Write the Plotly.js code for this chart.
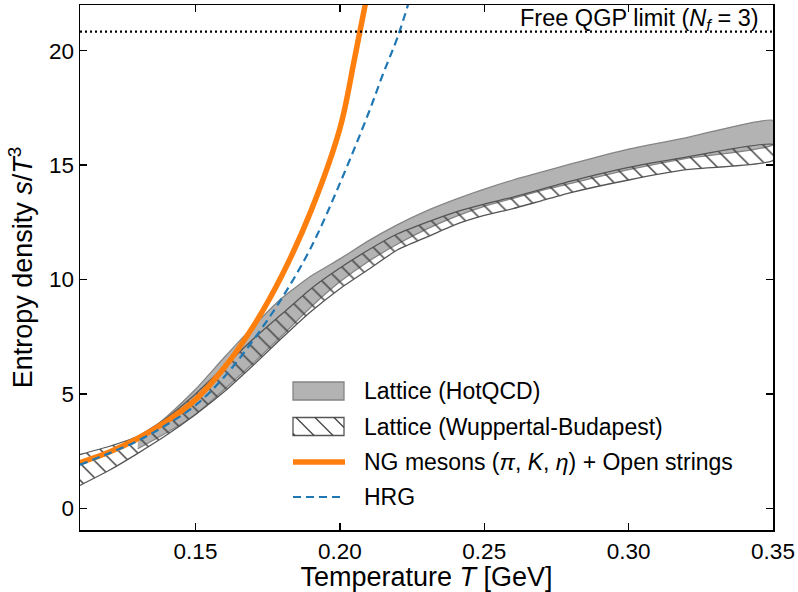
<!DOCTYPE html>
<html>
<head>
<meta charset="utf-8">
<script src="https://cdn.plot.ly/plotly-3.0.1.min.js"></script>
<style>html,body{margin:0;padding:0;background:#fff;}#chart{width:798px;height:592px;}</style>
</head>
<body>
<div id="chart"></div>
<script>
// HotQCD band (s/T^3)
const hotT  = [0.13, 0.14, 0.15, 0.16, 0.17, 0.18, 0.19, 0.20, 0.21, 0.22, 0.23, 0.24, 0.25, 0.26, 0.27, 0.28, 0.30, 0.32, 0.35];
const hotHi = [2.95, 4.0, 5.2, 6.6, 7.95, 9.2, 10.15, 10.9, 11.7, 12.4, 13.0, 13.5, 13.95, 14.35, 14.7, 15.05, 15.7, 16.2, 16.95];
const hotLo = [2.6, 3.3, 4.1, 5.2, 6.35, 7.55, 8.8, 9.9, 10.8, 11.55, 12.2, 12.75, 13.2, 13.55, 13.9, 14.2, 14.8, 15.3, 15.9];
// Wuppertal-Budapest band
const wbT  = [0.11, 0.12, 0.13, 0.14, 0.15, 0.16, 0.17, 0.18, 0.19, 0.20, 0.21, 0.22, 0.23, 0.24, 0.25, 0.26, 0.27, 0.28, 0.30, 0.32, 0.35];
const wbHi = [2.35, 2.7, 3.15, 3.95, 5.0, 6.2, 7.4, 8.5, 9.6, 10.5, 11.3, 12.0, 12.5, 12.95, 13.3, 13.6, 13.95, 14.3, 14.9, 15.35, 15.9];
const wbLo = [1.0, 1.65, 2.4, 3.2, 4.1, 5.1, 6.25, 7.45, 8.6, 9.6, 10.45, 11.3, 11.85, 12.4, 12.8, 13.1, 13.45, 13.8, 14.35, 14.8, 15.2];
// NG mesons + open strings
const ngT = [0.11, 0.12, 0.13, 0.14, 0.15, 0.16, 0.17, 0.18, 0.19, 0.20, 0.205, 0.21];
const ngS = [2.0, 2.45, 3.05, 3.8, 4.75, 6.15, 7.95, 10.2, 13.0, 16.6, 19.6, 22.8];
// HRG
const hrgT = [0.11, 0.12, 0.13, 0.14, 0.15, 0.16, 0.17, 0.18, 0.19, 0.20, 0.21, 0.215, 0.22, 0.225];
const hrgS = [1.9, 2.4, 2.95, 3.65, 4.5, 5.75, 7.35, 9.2, 11.4, 14.2, 17.3, 19.0, 20.6, 22.6];
// Free QGP limit
const qgpT = [0.11, 0.35];
const qgpS = [20.84, 20.84];
const xTicks = [0.15, 0.20, 0.25, 0.30, 0.35];
const xTickText = ['0.15', '0.20', '0.25', '0.30', '0.35'];
const yTicks = [0, 5, 10, 15, 20];
const legendNames = ['Lattice (HotQCD)', 'Lattice (Wuppertal-Budapest)',
  'NG mesons (<i>π</i>, <i>K</i>, <i>η</i>) + Open strings', 'HRG'];

const rev = a => a.slice().reverse();
const FONT = 'Liberation Sans, Arial, sans-serif';

const W = 798, H = 592;
const M = {l: 80, r: 25, t: 5, b: 62};
const PW = W - M.l - M.r, PH = H - M.t - M.b;
const px2x = p => (p - M.l) / PW;
const px2y = p => (H - M.b - p) / PH;

const traces = [
  {
    x: hotT.concat(rev(hotT)), y: hotHi.concat(rev(hotLo)),
    type: 'scatter', mode: 'lines', fill: 'toself',
    fillcolor: '#b3b3b3', line: {color: '#858585', width: 1.3, shape: 'spline', smoothing: 0.5},
    name: legendNames[0], showlegend: false, hoverinfo: 'skip'
  },
  {
    x: wbT.concat(rev(wbT)), y: wbHi.concat(rev(wbLo)),
    type: 'scatter', mode: 'lines', fill: 'toself',
    fillcolor: 'rgba(0,0,0,0)',
    fillpattern: {shape: '\\', fgcolor: '#404040', bgcolor: 'rgba(0,0,0,0)', size: 12, solidity: 0.12},
    line: {color: '#555555', width: 1.3, shape: 'spline', smoothing: 0.5},
    name: legendNames[1], showlegend: false, hoverinfo: 'skip'
  },
  {
    x: ngT, y: ngS, type: 'scatter', mode: 'lines', line: {shape: 'spline', color: '#ff7f0e', width: 5.5},
    name: legendNames[2], showlegend: false
  },
  {
    x: hrgT, y: hrgS, type: 'scatter', mode: 'lines', line: {shape: 'spline', color: '#1f77b4', width: 2.2, dash: '8px,5px'},
    name: legendNames[3], showlegend: false
  },
  {
    x: qgpT, y: qgpS, type: 'scatter', mode: 'lines', line: {color: '#000', width: 2.2, dash: '2px,3px'},
    showlegend: false
  }
];

// ---- legend drawn as paper shapes + annotations ----
const rowY = [391, 426.5, 462, 497];
const symX0 = 293, symX1 = 344, txtX = 362, boxH = 18;
const shapes = [];
const annotations = [];
// HotQCD box
shapes.push({type: 'rect', xref: 'paper', yref: 'paper',
  x0: px2x(symX0), x1: px2x(symX1), y0: px2y(rowY[0] + boxH / 2), y1: px2y(rowY[0] - boxH / 2),
  fillcolor: '#b3b3b3', line: {color: '#858585', width: 1.3}});
// WB hatched box
const bt = rowY[1] - boxH / 2, bb = rowY[1] + boxH / 2;
shapes.push({type: 'rect', xref: 'paper', yref: 'paper',
  x0: px2x(symX0), x1: px2x(symX1), y0: px2y(bb), y1: px2y(bt),
  fillcolor: 'rgba(0,0,0,0)', line: {color: '#555555', width: 1.3}});
for (let s = symX0 - boxH + 2; s < symX1; s += 19) {
  let xa = s, ya = bt, xb = s + boxH, yb = bb;
  if (xa < symX0) { ya = bt + (symX0 - xa); xa = symX0; }
  if (xb > symX1) { yb = bb - (xb - symX1); xb = symX1; }
  if (xb - xa < 1) continue;
  shapes.push({type: 'line', xref: 'paper', yref: 'paper',
    x0: px2x(xa), y0: px2y(ya), x1: px2x(xb), y1: px2y(yb),
    line: {color: '#404040', width: 1.3}});
}
// NG line
shapes.push({type: 'line', xref: 'paper', yref: 'paper',
  x0: px2x(symX0), x1: px2x(symX1 + 1), y0: px2y(rowY[2]), y1: px2y(rowY[2]),
  line: {color: '#ff7f0e', width: 5.5}});
// HRG line
shapes.push({type: 'line', xref: 'paper', yref: 'paper',
  x0: px2x(symX0), x1: px2x(symX1 + 1), y0: px2y(rowY[3]), y1: px2y(rowY[3]),
  line: {color: '#1f77b4', width: 2.2, dash: '8px,5px'}});
legendNames.forEach((n, i) => {
  annotations.push({xref: 'paper', yref: 'paper', x: px2x(txtX), y: px2y(rowY[i]),
    xanchor: 'left', yanchor: 'middle', text: n, showarrow: false,
    font: {family: FONT, size: 23, color: '#000'}});
});
annotations.push({
  x: 0.3457, y: qgpS[0], xref: 'x', yref: 'y', xanchor: 'right', yanchor: 'bottom',
  text: 'Free QGP limit (<i>N</i><sub><i>f</i></sub> = 3)', showarrow: false,
  font: {family: FONT, size: 23.5, color: '#000'}, yshift: -4
});

const layout = {
  width: W, height: H,
  margin: M,
  paper_bgcolor: '#fff', plot_bgcolor: '#fff',
  font: {family: FONT, color: '#000', size: 22},
  showlegend: false,
  xaxis: {
    range: [0.11, 0.35], tickvals: xTicks, ticktext: xTickText,
    ticks: 'inside', ticklen: 7, tickwidth: 1.3, tickcolor: '#000',
    showline: true, linecolor: '#000', linewidth: 1.5, mirror: 'ticks',
    showgrid: false, zeroline: false,
    tickfont: {family: FONT, size: 22.5},
    title: {text: 'Temperature <i>T</i> [GeV]', font: {family: FONT, size: 27}, standoff: 2}
  },
  yaxis: {
    range: [-0.95, 22], tickvals: yTicks,
    ticks: 'inside', ticklen: 7, tickwidth: 1.3, tickcolor: '#000',
    showline: true, linecolor: '#000', linewidth: 1.5, mirror: 'ticks',
    showgrid: false, zeroline: false,
    tickfont: {family: FONT, size: 22.5},
    title: {text: 'Entropy density <i>s</i>/<i>T</i><sup>3</sup>', font: {family: FONT, size: 27}, standoff: 8}
  },
  shapes: shapes,
  annotations: annotations
};

Plotly.newPlot('chart', traces, layout, {displayModeBar: false, staticPlot: true});
</script>
</body>
</html>
